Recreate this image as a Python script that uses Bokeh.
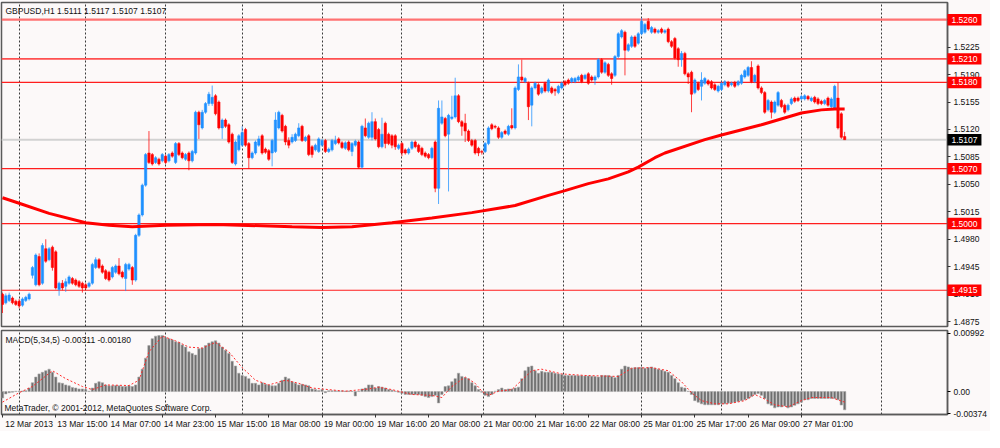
from bokeh.plotting import figure
from bokeh.layouts import column
from bokeh.models import Range1d, FixedTicker, Span, Label, Grid, ColumnDataSource, PrintfTickFormatter
from bokeh.core.properties import value
from bokeh.embed import file_html
from bokeh.resources import INLINE

FONT = "Liberation Sans"
symbol_title = "GBPUSD,H1  1.5111 1.5117 1.5107 1.5107"
macd_title = "MACD(5,34,5) -0.00311 -0.00180"
copyright_text = "MetaTrader, \u00a9 2001-2012, MetaQuotes Software Corp."

time_labels = ["12 Mar 2013", "13 Mar 15:00", "14 Mar 07:00", "14 Mar 23:00", "15 Mar 15:00",
               "18 Mar 08:00", "19 Mar 00:00", "19 Mar 16:00", "20 Mar 08:00", "21 Mar 00:00",
               "21 Mar 16:00", "22 Mar 08:00", "25 Mar 01:00", "25 Mar 17:00", "26 Mar 09:00",
               "27 Mar 01:00"]
label_bars = [0, 16, 32, 48, 64, 80, 96, 112, 128, 144, 160, 176, 192, 208, 224, 240]
grid_bars = [5, 25, 49, 72, 96, 120, 144.5, 168.5, 192, 216, 240, 264]

# hourly OHLC, in pips above 1.4000
opens = [910, 899, 902, 905, 901, 901, 896, 902, 904, 934, 922, 958, 924, 968, 954, 970, 964, 916, 924, 920,
         924, 930, 928, 926, 924, 922, 920, 924, 944, 954, 946, 940, 938, 932, 938, 946, 938, 930, 942, 944,
         928, 985, 1011, 1049, 1090, 1088, 1078, 1082, 1080, 1086, 1080, 1090, 1078, 1102, 1090, 1082, 1090, 1080, 1090, 1142,
         1122, 1142, 1153, 1153, 1163, 1155, 1122, 1132, 1126, 1114, 1076, 1094, 1100, 1120, 1102, 1084, 1090, 1100, 1112, 1095,
         1093, 1090, 1092, 1122, 1138, 1124, 1106, 1104, 1106, 1112, 1124, 1106, 1112, 1098, 1094, 1092, 1100, 1106, 1092, 1094,
         1102, 1108, 1103, 1096, 1104, 1092, 1100, 1104, 1072, 1122, 1110, 1110, 1130, 1120, 1098, 1128, 1114, 1112, 1112, 1096,
         1102, 1094, 1090, 1096, 1104, 1100, 1096, 1090, 1088, 1084, 1104, 1045, 1128, 1134, 1114, 1134, 1136, 1163, 1130, 1128,
         1118, 1106, 1106, 1096, 1092, 1092, 1102, 1126, 1124, 1122, 1110, 1118, 1114, 1125, 1122, 1171, 1187, 1181, 1179, 1151,
         1173, 1177, 1167, 1179, 1169, 1173, 1171, 1167, 1173, 1181, 1183, 1181, 1181, 1183, 1189, 1185, 1191, 1187, 1183, 1187,
         1209, 1193, 1203, 1191, 1189, 1213, 1238, 1244, 1221, 1226, 1238, 1230, 1242, 1244, 1258, 1244, 1248, 1244, 1248, 1244,
         1248, 1232, 1236, 1223, 1209, 1217, 1191, 1193, 1167, 1179, 1175, 1179, 1182, 1181, 1177, 1169, 1171, 1177, 1180, 1177,
         1180, 1177, 1179, 1187, 1189, 1199, 1181, 1201, 1173, 1167, 1145, 1155, 1142, 1151, 1157, 1151, 1145, 1153, 1160, 1160,
         1159, 1159, 1162, 1157, 1161, 1159, 1156, 1153, 1160, 1149, 1147, 1160, 1140, 1111]
highs = [912, 911, 912, 907, 903, 904, 906, 908, 912, 946, 962, 962, 975, 980, 970, 972, 966, 926, 928, 930,
         934, 932, 930, 928, 926, 924, 926, 950, 957, 956, 948, 942, 940, 946, 948, 956, 940, 950, 950, 946,
         987, 1013, 1051, 1090, 1118, 1090, 1086, 1084, 1090, 1088, 1090, 1092, 1104, 1104, 1092, 1090, 1092, 1094, 1144, 1144,
         1145, 1155, 1168, 1176, 1165, 1157, 1134, 1134, 1128, 1116, 1106, 1114, 1124, 1122, 1104, 1092, 1106, 1112, 1114, 1097,
         1095, 1108, 1142, 1144, 1140, 1126, 1110, 1114, 1116, 1128, 1126, 1112, 1114, 1100, 1102, 1110, 1108, 1108, 1097, 1108,
         1112, 1110, 1105, 1105, 1106, 1104, 1107, 1106, 1126, 1134, 1130, 1142, 1134, 1122, 1135, 1130, 1116, 1114, 1114, 1102,
         1104, 1096, 1097, 1106, 1106, 1102, 1098, 1092, 1090, 1098, 1106, 1157, 1157, 1136, 1140, 1163, 1186, 1165, 1132, 1140,
         1120, 1108, 1108, 1098, 1094, 1104, 1124, 1128, 1126, 1124, 1118, 1120, 1126, 1147, 1175, 1203, 1209, 1187, 1181, 1175,
         1181, 1179, 1175, 1181, 1185, 1175, 1173, 1177, 1181, 1183, 1185, 1187, 1187, 1189, 1191, 1191, 1193, 1189, 1189, 1211,
         1211, 1207, 1205, 1193, 1215, 1244, 1248, 1246, 1230, 1240, 1240, 1244, 1262, 1256, 1262, 1252, 1250, 1248, 1250, 1248,
         1250, 1234, 1238, 1225, 1220, 1219, 1193, 1195, 1185, 1181, 1193, 1187, 1184, 1183, 1179, 1177, 1181, 1183, 1182, 1181,
         1182, 1183, 1191, 1197, 1201, 1207, 1191, 1203, 1175, 1169, 1159, 1157, 1157, 1169, 1159, 1153, 1153, 1161, 1162, 1162,
         1164, 1165, 1164, 1162, 1163, 1161, 1158, 1159, 1162, 1161, 1177, 1180, 1142, 1117]
lows = [886, 897, 900, 897, 895, 892, 894, 900, 902, 930, 920, 920, 922, 950, 952, 940, 916, 908, 915, 913,
        922, 922, 920, 918, 912, 916, 918, 922, 942, 942, 936, 928, 926, 930, 936, 934, 930, 914, 940, 922,
        926, 983, 1009, 1047, 1076, 1074, 1076, 1074, 1078, 1076, 1078, 1084, 1076, 1086, 1082, 1080, 1068, 1078, 1088, 1108,
        1120, 1140, 1150, 1150, 1138, 1120, 1108, 1122, 1102, 1076, 1074, 1092, 1098, 1098, 1070, 1082, 1088, 1098, 1088, 1089,
        1080, 1073, 1090, 1120, 1116, 1100, 1096, 1102, 1104, 1110, 1104, 1104, 1086, 1084, 1092, 1090, 1098, 1090, 1090, 1092,
        1100, 1101, 1095, 1094, 1092, 1086, 1098, 1070, 1070, 1110, 1108, 1106, 1106, 1096, 1096, 1096, 1100, 1096, 1094, 1094,
        1086, 1088, 1088, 1094, 1096, 1090, 1086, 1084, 1082, 1082, 1040, 1025, 1126, 1110, 1041, 1132, 1134, 1128, 1112, 1104,
        1104, 1098, 1088, 1086, 1088, 1090, 1100, 1119, 1121, 1108, 1108, 1113, 1112, 1120, 1120, 1169, 1181, 1179, 1132, 1124,
        1171, 1163, 1165, 1167, 1167, 1165, 1163, 1165, 1171, 1175, 1177, 1179, 1179, 1181, 1179, 1183, 1177, 1181, 1177, 1185,
        1191, 1191, 1187, 1177, 1187, 1211, 1236, 1189, 1219, 1224, 1224, 1228, 1240, 1242, 1246, 1242, 1242, 1242, 1242, 1242,
        1230, 1224, 1209, 1200, 1200, 1189, 1178, 1142, 1165, 1169, 1157, 1177, 1176, 1171, 1169, 1167, 1169, 1175, 1173, 1175,
        1173, 1175, 1177, 1185, 1187, 1179, 1179, 1171, 1165, 1140, 1143, 1134, 1140, 1149, 1147, 1140, 1143, 1151, 1154, 1155,
        1157, 1157, 1157, 1155, 1153, 1151, 1151, 1151, 1149, 1147, 1145, 1120, 1108, 1107]
closes = [897, 908, 909, 899, 897, 895, 904, 906, 910, 944, 960, 922, 972, 952, 968, 944, 918, 924, 918, 926,
          932, 924, 922, 920, 918, 918, 924, 948, 954, 944, 938, 930, 928, 944, 946, 936, 932, 948, 948, 928,
          985, 1011, 1049, 1088, 1078, 1076, 1084, 1076, 1088, 1078, 1088, 1086, 1102, 1088, 1084, 1088, 1080, 1092, 1142, 1126,
          1142, 1153, 1165, 1161, 1140, 1122, 1132, 1124, 1104, 1078, 1104, 1112, 1116, 1100, 1084, 1090, 1104, 1108, 1090, 1091,
          1082, 1106, 1132, 1142, 1118, 1104, 1100, 1110, 1114, 1122, 1106, 1110, 1088, 1088, 1100, 1108, 1106, 1092, 1095, 1106,
          1106, 1103, 1097, 1103, 1094, 1102, 1105, 1072, 1124, 1112, 1128, 1130, 1108, 1098, 1114, 1102, 1102, 1100, 1098, 1100,
          1090, 1090, 1095, 1104, 1098, 1092, 1088, 1086, 1084, 1096, 1045, 1147, 1136, 1112, 1138, 1136, 1163, 1130, 1124, 1118,
          1106, 1100, 1090, 1090, 1091, 1102, 1122, 1121, 1123, 1110, 1116, 1115, 1124, 1122, 1173, 1187, 1183, 1185, 1149, 1173,
          1179, 1165, 1173, 1169, 1183, 1167, 1169, 1175, 1179, 1177, 1179, 1185, 1185, 1187, 1181, 1189, 1179, 1183, 1187, 1209,
          1193, 1205, 1189, 1185, 1213, 1242, 1246, 1221, 1228, 1238, 1226, 1242, 1258, 1254, 1248, 1250, 1244, 1246, 1244, 1246,
          1232, 1226, 1211, 1209, 1217, 1191, 1187, 1165, 1183, 1171, 1183, 1185, 1178, 1173, 1171, 1175, 1179, 1181, 1175, 1179,
          1175, 1181, 1189, 1195, 1199, 1181, 1189, 1173, 1167, 1142, 1157, 1142, 1155, 1167, 1149, 1142, 1151, 1159, 1156, 1157,
          1162, 1163, 1159, 1160, 1155, 1153, 1153, 1157, 1151, 1159, 1175, 1122, 1110, 1107]

# moving average, read at sample bars (pips above 1.4000)
ma_bars = [0, 5, 14, 25, 32, 39, 49, 64, 87, 96, 105, 117, 129, 141, 154, 164, 169, 176, 182, 188,
           191, 196, 199, 211, 216, 228, 240, 246, 250, 253]
ma_vals = [1033, 1026, 1013, 1001, 998, 996, 998, 999, 996, 995, 996, 1001, 1007, 1014, 1023, 1036, 1042, 1051, 1057, 1066,
           1072, 1084, 1090, 1107, 1113, 1126, 1141, 1145, 1146, 1146]

# MACD main line, units of 0.00001
macd_hist = [-110, -40, -20, -10, 5, 8, 10, 15, 60, 150, 247, 301, 328, 355, 381, 328, 247, 150, 140, 113,
             97, 70, 60, 44, 44, 33, 6, 60, 140, 167, 150, 113, 97, 97, 102, 97, 86, 86, 97, 86,
             113, 247, 381, 569, 783, 901, 944, 955, 955, 917, 901, 880, 848, 837, 794, 757, 676, 649, 622, 730,
             740, 783, 826, 848, 864, 826, 757, 703, 649, 515, 435, 312, 274, 258, 220, 140, 140, 113, 150, 123,
             113, 97, 97, 140, 193, 247, 220, 167, 140, 113, 123, 113, 97, 44, 33, 17, 33, -20, 15, 15,
             12, 10, 12, 8, 10, 5, -75, 5, 44, 60, 113, 113, 60, 86, 75, 60, 33, 22, 6, -10,
             -30, -50, -50, -50, -50, -50, -65, -86, -102, -86, -65, -193, -50, 86, 97, 167, 220, 312, 258, 237,
             220, 150, 97, 33, -10, -65, -86, -50, 6, 33, 60, 33, 44, 44, 60, 75, 220, 355, 419, 435,
             355, 312, 344, 328, 328, 328, 312, 301, 290, 274, 274, 274, 274, 270, 270, 265, 265, 262, 258, 247,
             274, 274, 274, 258, 237, 274, 381, 435, 419, 397, 408, 408, 408, 397, 408, 419, 397, 381, 365, 344,
             328, 274, 220, 150, 75, 60, 6, -50, -155, -182, -209, -225, -225, -225, -225, -225, -209, -209, -198, -193,
             -182, -170, -155, -139, -118, -86, -50, -32, -65, -118, -209, -235, -278, -262, -262, -245, -278, -262, -235, -209,
             -182, -139, -139, -118, -118, -118, -118, -118, -118, -118, -118, -140, -230, -311]
# MACD signal line, read at sample bars
sig_bars = [0, 5, 9, 15, 19, 24, 27, 31, 38, 41, 44, 48, 52, 56, 60, 64, 68, 72, 76, 80,
            85, 89, 93, 103, 110, 113, 117, 123, 129, 132, 135, 139, 142, 144, 146, 149, 153, 156, 159, 162,
            168, 175, 185, 189, 195, 200, 204, 207, 210, 214, 218, 223, 226, 229, 232, 236, 240, 243, 249, 253]
sig_vals = [-180, -20, 86, 355, 220, 86, 33, 113, 102, 193, 676, 944, 864, 757, 740, 837, 676, 408, 193, 113,
            193, 140, 60, 6, 44, 75, 33, -50, -65, -102, 86, 247, 140, 6, -65, 6, 33, 193, 355, 381,
            301, 274, 257, 397, 408, 355, 167, -20, -155, -209, -209, -155, -50, -129, -225, -262, -155, -102, -102, -180]

level_prices = [1.5260, 1.5210, 1.5180, 1.5070, 1.5000, 1.4915]
current_price = 1.5107
price_ticks = [1.4875, 1.4910, 1.4945, 1.4980, 1.5015, 1.5050, 1.5085, 1.5120, 1.5155, 1.5190, 1.5225, 1.5260]
macd_ticks = [-0.00374, 0.0, 0.00992]
macd_tick_text = ["-0.00374", "0.00", "0.00992"]

BG = "#fcf9f9"
BULL = "#1e90ff"
BEAR = "#ff0000"
FRAME = "#5a5a5a"
X0, X1 = -0.3, 283.9
Y0, Y1 = 1.48688, 1.52819

n = len(closes)
xs = list(range(n))
o = [1.4 + v / 10000 for v in opens]
h = [1.4 + v / 10000 for v in highs]
l = [1.4 + v / 10000 for v in lows]
c = [1.4 + v / 10000 for v in closes]
colors = [BULL if cc >= oo else BEAR for oo, cc in zip(o, c)]
src = ColumnDataSource(dict(x=xs, o=o, h=h, l=l, c=c, col=colors))

x_range = Range1d(X0, X1)

p1 = figure(frame_width=946, frame_height=324, x_range=x_range, y_range=Range1d(Y0, Y1),
            output_backend="svg", toolbar_location=None, x_axis_location=None, y_axis_location="right",
            min_border_left=1, min_border_top=2, min_border_bottom=2, min_border_right=36,
            background_fill_color=BG, border_fill_color=BG)
p1.outline_line_color = FRAME
p1.outline_line_width = 1.5
p1.grid.visible = False
p1.add_layout(Grid(dimension=0, ticker=FixedTicker(ticks=grid_bars), grid_line_color="#3a3a3a",
                   grid_line_dash="2 2", grid_line_width=1))

for lp in level_prices:
    if lp == 1.5260:
        col, w = "#ff7272", 2.2
    elif lp == 1.5210:
        col, w = "#ff5050", 1.8
    else:
        col, w = "#ff1e1e", 1.2
    p1.add_layout(Span(location=lp, dimension="width", line_color=col, line_width=w, level="underlay"))
p1.add_layout(Span(location=current_price, dimension="width", line_color="#d2d2d2", line_width=2, level="underlay"))

p1.segment(x0="x", y0="l", x1="x", y1="h", color="col", line_width=1, line_alpha=0.75, source=src)
p1.vbar(x="x", top="o", bottom="c", width=0.72, fill_color="col", line_color="col", line_width=0.5, source=src)

p1.line(ma_bars, [1.4 + v / 10000 for v in ma_vals], line_color="#ff0000", line_width=3)

ya = p1.yaxis[0]
ya.ticker = FixedTicker(ticks=price_ticks)
ya.formatter = PrintfTickFormatter(format="%.4f")
ya.major_tick_out = 3
ya.major_tick_in = 0
ya.minor_tick_out = 0
ya.minor_tick_in = 0
ya.major_label_standoff = 3
ya.axis_line_color = FRAME
ya.axis_line_width = 1.5
ya.major_tick_line_color = "#333333"
ya.major_label_text_font = FONT
ya.major_label_text_font_size = "8.5px"
ya.major_label_text_color = "#111111"

# price tags on the right scale (drawn at overlay level so they may leave the frame)
tag_prices = level_prices + [current_price]
tag_colors = ["#ff0000"] * len(level_prices) + ["#000000"]
tag_src = ColumnDataSource(dict(left=[X1 - 0.02] * len(tag_prices), right=[X1 + 10.2] * len(tag_prices),
                                bottom=[pp - 0.00073 for pp in tag_prices], top=[pp + 0.00073 for pp in tag_prices],
                                y=tag_prices, x=[X1 - 0.02] * len(tag_prices),
                                text=[f"{pp:.4f}" for pp in tag_prices], col=tag_colors))
p1.quad(left="left", right="right", bottom="bottom", top="top", fill_color="col", line_color=None,
        source=tag_src, level="overlay")
p1.text(x="x", y="y", text="text", x_offset=4, text_align="left", text_baseline="middle",
        text_color="white", text_font=value(FONT), text_font_size="8.5px", source=tag_src, level="overlay")

p1.add_layout(Label(x=X0, y=Y1, x_offset=4, y_offset=-3, text=symbol_title, text_font=FONT,
                    text_font_size="8.5px", text_color="#111111", text_baseline="top", text_align="left"))

# MACD panel
M0, M1 = -0.00391, 0.01040
p2 = figure(frame_width=946, frame_height=84, x_range=x_range, y_range=Range1d(M0, M1),
            output_backend="svg", toolbar_location=None, y_axis_location="right",
            min_border_left=1, min_border_top=2, min_border_bottom=0, min_border_right=36,
            background_fill_color=BG, border_fill_color=BG)
p2.outline_line_color = FRAME
p2.outline_line_width = 1.5
p2.grid.visible = False
p2.add_layout(Grid(dimension=0, ticker=FixedTicker(ticks=grid_bars), grid_line_color="#3a3a3a",
                   grid_line_dash="2 2", grid_line_width=1))

hsrc = ColumnDataSource(dict(x=xs, top=[v / 100000 for v in macd_hist]))
p2.vbar(x="x", top="top", bottom=0, width=0.7, fill_color="#6e6e6e", line_color="#a8a8a8",
        line_width=0.6, source=hsrc)
p2.line(sig_bars, [v / 100000 for v in sig_vals], line_color="#ff2a2a", line_width=1, line_dash="2 2")

ya2 = p2.yaxis[0]
ya2.ticker = FixedTicker(ticks=macd_ticks)
ya2.major_label_overrides = {t: s for t, s in zip(macd_ticks, macd_tick_text)}
ya2.major_tick_out = 3
ya2.major_tick_in = 0
ya2.minor_tick_out = 0
ya2.minor_tick_in = 0
ya2.major_label_standoff = 3
ya2.axis_line_color = FRAME
ya2.axis_line_width = 1.5
ya2.major_label_text_font = FONT
ya2.major_label_text_font_size = "8.5px"
ya2.major_label_text_color = "#111111"

# time scale: short marks at the labelled bars (minor ticks), each text starting right of its mark
text_pos = [b + 8 for b in label_bars]
xa = p2.xaxis[0]
xa.ticker = FixedTicker(ticks=text_pos, minor_ticks=label_bars)
xa.major_label_overrides = {t: s for t, s in zip(text_pos, time_labels)}
xa.major_tick_out = 0
xa.major_tick_in = 0
xa.minor_tick_out = 3
xa.minor_tick_in = 0
xa.minor_tick_line_color = "#333333"
xa.major_label_standoff = 1
xa.axis_line_color = FRAME
xa.axis_line_width = 1.5
xa.major_label_text_font = FONT
xa.major_label_text_font_size = "8.5px"
xa.major_label_text_color = "#111111"

p2.add_layout(Label(x=X0, y=M1, x_offset=4, y_offset=-4, text=macd_title, text_font=FONT,
                    text_font_size="8.5px", text_color="#111111", text_baseline="top", text_align="left"))
p2.add_layout(Label(x=X0, y=M0, x_offset=3, y_offset=2, text=copyright_text, text_font=FONT,
                    text_font_size="8.5px", text_color="#111111", text_baseline="bottom", text_align="left"))

layout = column(p1, p2, spacing=0, styles={"background-color": BG})
open("out.html", "w").write(file_html(layout, INLINE))
